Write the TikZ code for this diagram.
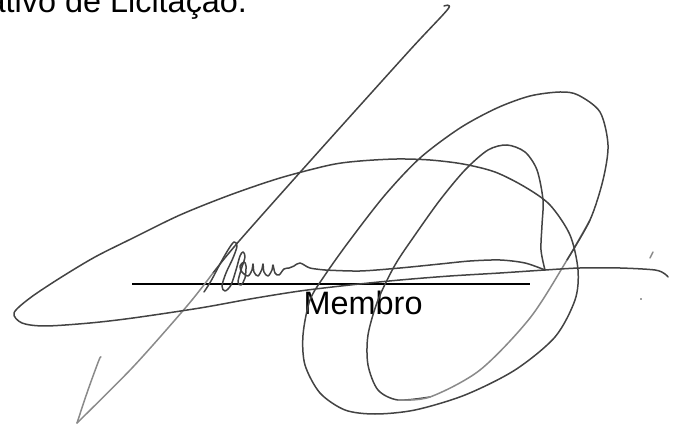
\documentclass[tikz,border=0pt]{standalone}
\usepackage{fontspec}
\setmainfont{Liberation Sans}
\definecolor{ink}{HTML}{434343}
\definecolor{inklight}{HTML}{8A8A8A}
\begin{document}
\begin{tikzpicture}[x=1pt, y=-1pt,
    pen/.style={ink, line width=1.5pt, line cap=round, line join=round},
    penlight/.style={pen, inklight},
    txt/.style={inner sep=0pt, font=\fontsize{32.4}{38}\selectfont}]
        \clip (0,0) rectangle (677,427);
        % texts
        \node[txt, anchor=base west] (heading) at (-12.5,13) {ativo de Licitação.};
        \node[txt, anchor=base west] (membro) at (303.5,315) {Membro};
        % signature line
        \coordinate (lineL) at (132,284);
        \coordinate (lineR) at (530,284);
        \draw [black, line width=1.8pt] (lineL) -- (lineR);
        % long stroke and the V at its foot
        \draw [pen] plot[smooth, tension=0.5] coordinates {(444,6) (448,9) (410,50) (320,150) (240,240) (213,273)};
        \draw [penlight] plot[smooth, tension=0.5] coordinates {(213,273) (187,306) (133,367) (77,423)};
        \draw [penlight] plot[smooth, tension=0.5] coordinates {(77,423) (88,390) (99,360) (101,357)};
        % initials
        \draw [pen] plot[smooth, tension=0.55] coordinates {(204,292) (211,281) (220,264) (228,250) (234,242) (237,246) (233,258) (226,273) (222,286) (225,291) (231,285) (236,270) (240,256) (243,252) (245,257) (241,270) (238,282) (241,285) (245,278) (246,266) (244,262) (240,266) (242,272) (248,276) (252,270) (253,264) (254,272) (258,276) (262,269) (263,264) (264,272) (268,276) (272,270) (273,265) (275,273) (279,275) (284,269) (289,268) (294,266) (300,263) (310,268) (325,270)};
        % baseline stroke up to the corner
        \draw [pen] plot[smooth, tension=0.5] coordinates {(325,270) (360,271) (400,268) (440,264) (470,261) (500,260) (525,263) (545,270)};
        % inner loop
        \draw [pen] plot[smooth, tension=0.5] coordinates {(545,270) (541,250) (542,225) (543,200) (537,170) (525,152) (507,145) (488,150) (465,170) (440,200) (415,235) (395,265) (378,300) (368,335) (368,365) (378,390) (398,400) (430,397)};
        \draw [penlight] plot[smooth, tension=0.5] coordinates {(398,400) (430,397) (480,370) (530,318) (567,260) (590,220)};
        % outer loop
        \draw [pen] plot[smooth, tension=0.5] coordinates {(567,260) (590,220) (603,180) (608,145) (600,112) (578,95) (560,92) (530,96) (497,108) (460,128) (420,158) (385,195) (350,240) (325,275) (310,300) (303,335) (305,365) (320,393) (345,410) (375,414) (415,410) (465,395) (515,370) (555,337) (575,300) (578,270) (570,235) (550,205) (525,187) (495,172) (463,164) (430,160) (397,159) (360,161) (330,165) (280,178) (230,195) (180,215) (133,238) (95,257) (60,278) (30,298) (14,313) (22,323) (45,326) (90,323) (133,318) (200,308) (250,299) (300,291) (350,285) (400,280) (450,276) (500,273) (545,270) (580,268) (620,268) (655,270) (665,274) (668,277)};
        % stray marks
        \draw [penlight] (650,258) -- (653,252);
        \fill [ink] (641,299) circle (0.9);
\end{tikzpicture}
\end{document}
